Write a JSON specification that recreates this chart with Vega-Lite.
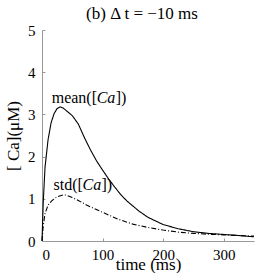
{
  "$schema": "https://vega.github.io/schema/vega-lite/v6.json",
  "width": 212,
  "height": 211,
  "autosize": {"type": "none"},
  "padding": {"left": 42, "top": 30, "right": 3, "bottom": 32},
  "background": "white",
  "config": {
    "view": {"stroke": null},
    "font": "Liberation Serif",
    "text": {"font": "Liberation Serif"},
    "axis": {
      "grid": false,
      "domainColor": "#999999",
      "tickColor": "#999999",
      "tickSize": -3,
      "labelFont": "Liberation Serif",
      "labelFontSize": 15,
      "labelColor": "black",
      "titleFont": "Liberation Serif",
      "titleFontSize": 17,
      "titleFontWeight": "normal",
      "titleColor": "black"
    }
  },
  "title": {
    "text": "(b) Δ t = −10 ms",
    "font": "Liberation Serif",
    "fontSize": 17,
    "fontWeight": "normal",
    "color": "black",
    "offset": 4,
    "dx": -6,
    "dy": 4
  },
  "datasets": {
    "curves": [
      {"series": "mean", "t": 0, "v": 0},
      {"series": "mean", "t": 2, "v": 0.9},
      {"series": "mean", "t": 5, "v": 1.75},
      {"series": "mean", "t": 10, "v": 2.4},
      {"series": "mean", "t": 15, "v": 2.8},
      {"series": "mean", "t": 20, "v": 3.02},
      {"series": "mean", "t": 25, "v": 3.14},
      {"series": "mean", "t": 30, "v": 3.18},
      {"series": "mean", "t": 35, "v": 3.15},
      {"series": "mean", "t": 40, "v": 3.09},
      {"series": "mean", "t": 50, "v": 2.97},
      {"series": "mean", "t": 60, "v": 2.77},
      {"series": "mean", "t": 70, "v": 2.45},
      {"series": "mean", "t": 80, "v": 2.16},
      {"series": "mean", "t": 90, "v": 1.9},
      {"series": "mean", "t": 100, "v": 1.68},
      {"series": "mean", "t": 110, "v": 1.47},
      {"series": "mean", "t": 120, "v": 1.28},
      {"series": "mean", "t": 130, "v": 1.1},
      {"series": "mean", "t": 140, "v": 0.95},
      {"series": "mean", "t": 150, "v": 0.83},
      {"series": "mean", "t": 160, "v": 0.71},
      {"series": "mean", "t": 175, "v": 0.56},
      {"series": "mean", "t": 200, "v": 0.39},
      {"series": "mean", "t": 225, "v": 0.29},
      {"series": "mean", "t": 250, "v": 0.22},
      {"series": "mean", "t": 275, "v": 0.18},
      {"series": "mean", "t": 300, "v": 0.155},
      {"series": "mean", "t": 325, "v": 0.13},
      {"series": "mean", "t": 350, "v": 0.1},
      {"series": "std", "t": 0, "v": 0},
      {"series": "std", "t": 2, "v": 0.35},
      {"series": "std", "t": 5, "v": 0.65},
      {"series": "std", "t": 10, "v": 0.85},
      {"series": "std", "t": 16, "v": 0.95},
      {"series": "std", "t": 25, "v": 1.05},
      {"series": "std", "t": 35, "v": 1.09},
      {"series": "std", "t": 40, "v": 1.09},
      {"series": "std", "t": 50, "v": 1.03},
      {"series": "std", "t": 60, "v": 0.96},
      {"series": "std", "t": 75, "v": 0.84},
      {"series": "std", "t": 100, "v": 0.68},
      {"series": "std", "t": 125, "v": 0.52},
      {"series": "std", "t": 150, "v": 0.4},
      {"series": "std", "t": 175, "v": 0.32},
      {"series": "std", "t": 200, "v": 0.26},
      {"series": "std", "t": 225, "v": 0.21},
      {"series": "std", "t": 250, "v": 0.18},
      {"series": "std", "t": 275, "v": 0.16},
      {"series": "std", "t": 300, "v": 0.145},
      {"series": "std", "t": 325, "v": 0.13},
      {"series": "std", "t": 350, "v": 0.115}
    ],
    "meanLabel": [
      {"pre": "mean([", "mid": "Ca", "post": "])", "t": 16, "v": 3.26}
    ],
    "stdLabel": [
      {"pre": "std([", "mid": "Ca", "post": "])", "t": 19, "v": 1.21}
    ]
  },
  "layer": [
    {
      "data": {"name": "curves"},
      "mark": {"type": "line", "color": "black", "strokeWidth": 1.1},
      "encoding": {
        "x": {
          "field": "t", "type": "quantitative",
          "scale": {"domain": [0, 350], "nice": false},
          "axis": {"values": [0, 100, 200, 300], "title": "time (ms)", "titlePadding": -6, "labelPadding": 9}
        },
        "y": {
          "field": "v", "type": "quantitative",
          "scale": {"domain": [0, 5], "nice": false},
          "axis": {"values": [0, 1, 2, 3, 4, 5], "title": "[ Ca](μM)", "labelPadding": 10, "titlePadding": 5}
        },
        "detail": {"field": "series"},
        "strokeDash": {
          "field": "series", "type": "nominal",
          "scale": {"domain": ["mean", "std"], "range": [[1, 0], [5, 2, 1, 2]]},
          "legend": null
        }
      }
    },
    {
      "data": {"name": "meanLabel"},
      "layer": [
        {"mark": {"type": "text", "align": "left", "baseline": "alphabetic", "fontSize": 16, "font": "Liberation Serif", "color": "black"},
         "encoding": {"x": {"field": "t", "type": "quantitative"}, "y": {"field": "v", "type": "quantitative"}, "text": {"field": "pre"}}},
        {"mark": {"type": "text", "align": "left", "baseline": "alphabetic", "fontSize": 16, "font": "Liberation Serif", "fontStyle": "italic", "color": "black", "dx": 45},
         "encoding": {"x": {"field": "t", "type": "quantitative"}, "y": {"field": "v", "type": "quantitative"}, "text": {"field": "mid"}}},
        {"mark": {"type": "text", "align": "left", "baseline": "alphabetic", "fontSize": 16, "font": "Liberation Serif", "color": "black", "dx": 64},
         "encoding": {"x": {"field": "t", "type": "quantitative"}, "y": {"field": "v", "type": "quantitative"}, "text": {"field": "post"}}}
      ]
    },
    {
      "data": {"name": "stdLabel"},
      "layer": [
        {"mark": {"type": "text", "align": "left", "baseline": "alphabetic", "fontSize": 16, "font": "Liberation Serif", "color": "black"},
         "encoding": {"x": {"field": "t", "type": "quantitative"}, "y": {"field": "v", "type": "quantitative"}, "text": {"field": "pre"}}},
        {"mark": {"type": "text", "align": "left", "baseline": "alphabetic", "fontSize": 16, "font": "Liberation Serif", "fontStyle": "italic", "color": "black", "dx": 29},
         "encoding": {"x": {"field": "t", "type": "quantitative"}, "y": {"field": "v", "type": "quantitative"}, "text": {"field": "mid"}}},
        {"mark": {"type": "text", "align": "left", "baseline": "alphabetic", "fontSize": 16, "font": "Liberation Serif", "color": "black", "dx": 48},
         "encoding": {"x": {"field": "t", "type": "quantitative"}, "y": {"field": "v", "type": "quantitative"}, "text": {"field": "post"}}}
      ]
    }
  ]
}
